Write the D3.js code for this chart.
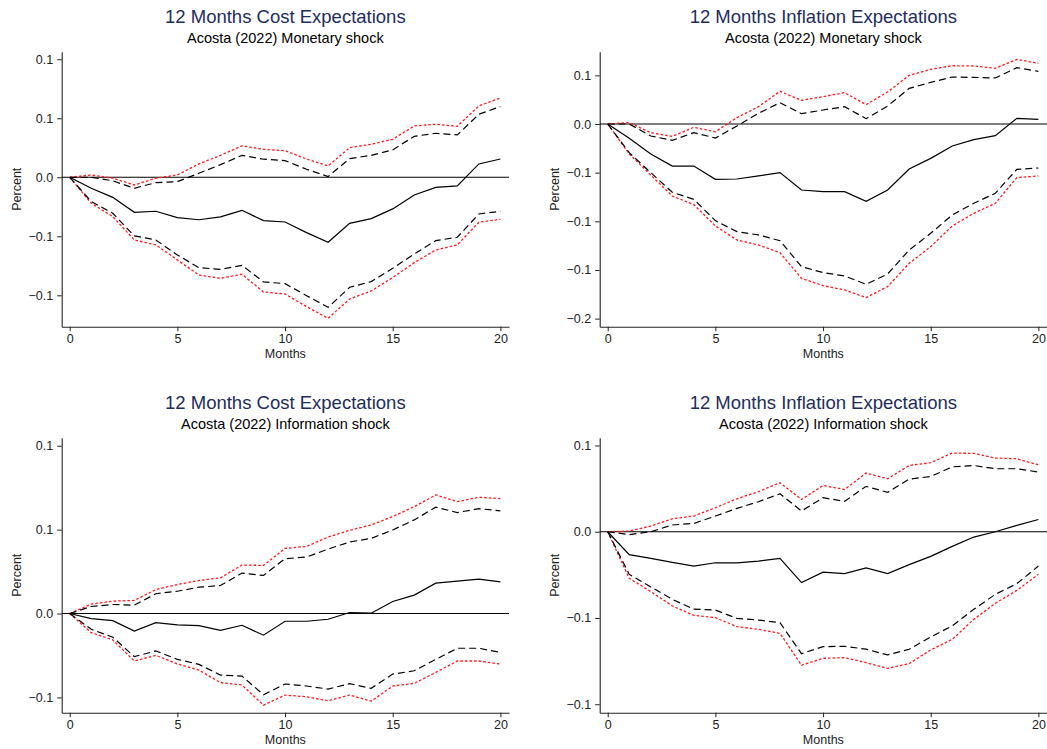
<!DOCTYPE html>
<html>
<head>
<meta charset="utf-8">
<script src="https://cdn.jsdelivr.net/npm/d3@7/dist/d3.min.js"></script>
<style>
  html, body { margin: 0; padding: 0; background: #fff; }
  svg { display: block; font-family: "Liberation Sans", Arial, Helvetica, sans-serif; }
</style>
</head>
<body>
<svg id="chart" width="1047" height="749"></svg>
<script>
// Horizon in months after the shock
const months = [0, 1, 2, 3, 4, 5, 6, 7, 8, 9, 10, 11, 12, 13, 14, 15, 16, 17, 18, 19, 20];
const xTickValues = [0, 5, 10, 15, 20];

// Panel titles
const titles = ["12 Months Cost Expectations", "12 Months Inflation Expectations",
                "12 Months Cost Expectations", "12 Months Inflation Expectations"];
const subtitles = ["Acosta (2022) Monetary shock", "Acosta (2022) Monetary shock",
                   "Acosta (2022) Information shock", "Acosta (2022) Information shock"];

// Cost expectations, monetary shock
const costMonIrf = [0, -0.0093, -0.017, -0.0297, -0.0288, -0.0342, -0.036, -0.0336, -0.028, -0.0367, -0.0379,
                    -0.0469, -0.0551, -0.039, -0.035, -0.0268, -0.015, -0.0085, -0.0073, 0.0113, 0.0155];
const costMonInnerHi = [0, 0, -0.003, -0.0093, -0.0045, -0.0037, 0.0034, 0.0107, 0.0186, 0.0153, 0.0141,
                        0.0068, 0.0006, 0.0158, 0.0186, 0.0232, 0.0347, 0.0373, 0.0359, 0.0534, 0.0599];
const costMonInnerLo = [0, -0.0206, -0.0305, -0.0497, -0.0531, -0.0658, -0.0766, -0.078, -0.0746, -0.0887, -0.0901,
                        -0.1003, -0.1102, -0.0932, -0.0884, -0.0771, -0.065, -0.0537, -0.0508, -0.0311, -0.0288];
const costMonOuterHi = [0, 0.002, -0.0008, -0.0065, -0.0008, 0.002, 0.0113, 0.0186, 0.0266, 0.0237, 0.0226,
                        0.0155, 0.0096, 0.0251, 0.028, 0.0322, 0.0435, 0.0449, 0.0432, 0.0605, 0.0672];
const costMonOuterLo = [0, -0.022, -0.0333, -0.0531, -0.0573, -0.07, -0.0828, -0.0856, -0.0822, -0.0972, -0.0989,
                        -0.1096, -0.1195, -0.1031, -0.0963, -0.085, -0.0723, -0.0616, -0.0573, -0.0381, -0.0356];

// Inflation expectations, monetary shock
const inflMonIrf = [0, -0.0147, -0.0308, -0.0432, -0.0432, -0.0568, -0.0565, -0.0534, -0.05, -0.0678, -0.0695,
                    -0.0695, -0.0795, -0.0678, -0.0462, -0.0353, -0.0226, -0.0161, -0.012, 0.0058, 0.0048];
const inflMonInnerHi = [0, 0, -0.0123, -0.0168, -0.0089, -0.0144, -0.0021, 0.011, 0.0219, 0.0106, 0.0144,
                        0.0178, 0.0055, 0.0185, 0.0366, 0.0428, 0.0483, 0.0479, 0.0473, 0.0579, 0.0541];
const inflMonInnerLo = [0, -0.0295, -0.05, -0.0702, -0.0774, -0.0993, -0.1106, -0.114, -0.1199, -0.1466, -0.1527,
                        -0.1562, -0.1647, -0.1541, -0.1295, -0.1123, -0.0935, -0.0815, -0.0712, -0.0466, -0.0452];
const inflMonOuterHi = [0, 0.0014, -0.0089, -0.0127, -0.0034, -0.0079, 0.0065, 0.0178, 0.0336, 0.0243, 0.0281,
                        0.0322, 0.0199, 0.0329, 0.05, 0.0562, 0.0599, 0.0596, 0.0572, 0.0664, 0.0623];
const inflMonOuterLo = [0, -0.0308, -0.0524, -0.074, -0.0829, -0.1048, -0.1192, -0.1243, -0.1322, -0.1586, -0.1661,
                        -0.1705, -0.1784, -0.1671, -0.1432, -0.126, -0.1048, -0.0918, -0.0815, -0.0551, -0.0534];

// Cost expectations, information shock
const costInfIrf = [0, -0.003, -0.0042, -0.0104, -0.0054, -0.0068, -0.0072, -0.01, -0.007, -0.0129, -0.0046,
                    -0.0046, -0.0034, 0.0006, 0.0002, 0.0072, 0.011, 0.0181, 0.0193, 0.0205, 0.0189];
const costInfInnerHi = [0, 0.0042, 0.0054, 0.005, 0.0118, 0.0133, 0.0157, 0.0167, 0.0241, 0.0227, 0.0327,
                        0.0337, 0.0384, 0.0426, 0.0448, 0.0498, 0.0558, 0.0634, 0.0602, 0.0625, 0.0612];
const costInfInnerLo = [0, -0.0094, -0.0141, -0.0257, -0.0223, -0.0273, -0.0303, -0.0367, -0.0373, -0.0484, -0.042,
                        -0.0432, -0.045, -0.0418, -0.0446, -0.0361, -0.0341, -0.0273, -0.0207, -0.0207, -0.0231];
const costInfOuterHi = [0, 0.0056, 0.0074, 0.0078, 0.0143, 0.0173, 0.0197, 0.0213, 0.0289, 0.0287, 0.0388,
                        0.04, 0.0456, 0.0496, 0.0528, 0.0578, 0.0637, 0.0707, 0.0667, 0.0693, 0.0685];
const costInfOuterLo = [0, -0.0114, -0.0157, -0.0283, -0.0249, -0.0301, -0.0337, -0.0412, -0.0426, -0.0546, -0.0486,
                        -0.0496, -0.052, -0.0486, -0.0522, -0.0432, -0.0416, -0.0351, -0.0283, -0.0283, -0.0301];

// Inflation expectations, information shock
const inflInfIrf = [0, -0.0133, -0.0154, -0.0178, -0.0199, -0.018, -0.018, -0.017, -0.0154, -0.0295, -0.0234,
                    -0.0243, -0.021, -0.0243, -0.0191, -0.0143, -0.0085, -0.0031, 0, 0.0037, 0.0071];
const inflInfInnerHi = [0, -0.0017, 0, 0.0039, 0.0048, 0.0091, 0.0135, 0.0174, 0.022, 0.012, 0.0197,
                        0.0176, 0.0263, 0.0228, 0.0305, 0.032, 0.0376, 0.0384, 0.0365, 0.0365, 0.0346];
const inflInfInnerLo = [0, -0.0247, -0.032, -0.0392, -0.0449, -0.0454, -0.0502, -0.0512, -0.0527, -0.0707, -0.0666,
                        -0.0664, -0.0681, -0.0714, -0.0681, -0.061, -0.0546, -0.045, -0.0363, -0.0301, -0.0199];
const inflInfOuterHi = [0, 0.0004, 0.0033, 0.0075, 0.0091, 0.0139, 0.0191, 0.0232, 0.0284, 0.0187, 0.0268,
                        0.0245, 0.034, 0.0307, 0.0384, 0.04, 0.0456, 0.0454, 0.0427, 0.0423, 0.0388];
const inflInfOuterLo = [0, -0.027, -0.0347, -0.043, -0.0485, -0.0498, -0.055, -0.0566, -0.0589, -0.0774, -0.0734,
                        -0.073, -0.0759, -0.0792, -0.0764, -0.0685, -0.0624, -0.0508, -0.0415, -0.034, -0.0247];

// Y-axis ticks and their printed labels (one decimal place)
const yTicks1 = [0.1, 0.05, 0, -0.05, -0.1];
const yLabels1 = ["0.1", "0.1", "0.0", "\u22120.1", "\u22120.1"];
const yTicks2 = [0.05, 0, -0.05, -0.1, -0.15, -0.2];
const yLabels2 = ["0.1", "0.0", "\u22120.1", "\u22120.1", "\u22120.1", "\u22120.2"];
const yTicks3 = [0.1, 0.05, 0, -0.05];
const yLabels3 = ["0.1", "0.1", "0.0", "\u22120.1"];
const yTicks4 = [0.05, 0, -0.05, -0.1];
const yLabels4 = ["0.1", "0.0", "\u22120.1", "\u22120.1"];

const panels = [
  { ox: 0,   oy: 0,   yDom: [-0.1266, 0.1064], ticks: yTicks1, labels: yLabels1,
    irf: costMonIrf, innerHi: costMonInnerHi, innerLo: costMonInnerLo, outerHi: costMonOuterHi, outerLo: costMonOuterLo },
  { ox: 538, oy: 0,   yDom: [-0.2083, 0.0743], ticks: yTicks2, labels: yLabels2,
    irf: inflMonIrf, innerHi: inflMonInnerHi, innerLo: inflMonInnerLo, outerHi: inflMonOuterHi, outerLo: inflMonOuterLo },
  { ox: 0,   oy: 386, yDom: [-0.0591, 0.1048], ticks: yTicks3, labels: yLabels3,
    irf: costInfIrf, innerHi: costInfInnerHi, innerLo: costInfInnerLo, outerHi: costInfOuterHi, outerLo: costInfOuterLo },
  { ox: 538, oy: 386, yDom: [-0.1049, 0.0545], ticks: yTicks4, labels: yLabels4,
    irf: inflInfIrf, innerHi: inflInfInnerHi, innerLo: inflInfInnerLo, outerHi: inflInfOuterHi, outerLo: inflInfOuterLo }
];

// Plot-region geometry shared by every panel (panel-local pixels)
const plotLeft = 61.7, plotRight = 509, plotTop = 51.7, plotBottom = 326.7;
const xDom = [-0.372, 20.4];

const svg = d3.select("#chart");
svg.append("rect").attr("width", 1047).attr("height", 749).attr("fill", "#fff");

panels.forEach((p, i) => {
  const g = svg.append("g").attr("transform", `translate(${p.ox},${p.oy})`);

  const x = d3.scaleLinear().domain(xDom).range([plotLeft, plotRight]);
  const y = d3.scaleLinear().domain(p.yDom).range([plotBottom, plotTop]);

  // Titles
  const cx = (plotLeft + plotRight) / 2;
  g.append("text").attr("x", cx).attr("y", 22.5).attr("text-anchor", "middle")
    .attr("font-size", 18.5).attr("fill", "#1e2d5c").text(titles[i]);
  g.append("text").attr("x", cx).attr("y", 42.5).attr("text-anchor", "middle")
    .attr("font-size", 14.5).attr("fill", "#000").text(subtitles[i]);

  // Y axis
  const yAxis = d3.axisLeft(y).tickValues(p.ticks)
    .tickFormat((d, k) => p.labels[k]).tickSizeInner(4.5).tickSizeOuter(0).tickPadding(4);
  const ya = g.append("g").attr("transform", `translate(${plotLeft},0)`).call(yAxis);

  // X axis
  const xAxis = d3.axisBottom(x).tickValues(xTickValues).tickFormat(d3.format("d"))
    .tickSizeInner(4.5).tickSizeOuter(0).tickPadding(3);
  const xa = g.append("g").attr("transform", `translate(0,${plotBottom})`).call(xAxis);

  [ya, xa].forEach(a => {
    a.select(".domain").attr("stroke", "#222").attr("stroke-width", 1.1);
    a.selectAll(".tick line").attr("stroke", "#222").attr("stroke-width", 1);
    a.selectAll(".tick text").attr("font-size", 12.5).attr("fill", "#222")
      .attr("font-family", "\"Liberation Sans\", Arial, sans-serif");
  });

  // Axis titles
  g.append("text").attr("x", cx).attr("y", 357.5).attr("text-anchor", "middle")
    .attr("font-size", 12.5).attr("fill", "#222").text("Months");
  g.append("text")
    .attr("transform", `translate(20.5,${(plotTop + plotBottom) / 2}) rotate(-90)`)
    .attr("text-anchor", "middle").attr("font-size", 12.5).attr("fill", "#222").text("Percent");

  // Zero reference line
  g.append("line").attr("x1", plotLeft).attr("x2", plotRight)
    .attr("y1", y(0)).attr("y2", y(0)).attr("stroke", "#000").attr("stroke-width", 1.1);

  const line = d3.line().x((d, k) => x(months[k])).y(d => y(d));

  // Outer band (red dotted)
  [p.outerHi, p.outerLo].forEach(s => {
    g.append("path").datum(s).attr("d", line).attr("fill", "none")
      .attr("stroke", "#ff1a1a").attr("stroke-width", 1.3).attr("stroke-dasharray", "2.6,2");
  });
  // Inner band (black dashed)
  [p.innerHi, p.innerLo].forEach(s => {
    g.append("path").datum(s).attr("d", line).attr("fill", "none")
      .attr("stroke", "#000").attr("stroke-width", 1.2).attr("stroke-dasharray", "7,4");
  });
  // Point estimate (solid)
  g.append("path").datum(p.irf).attr("d", line).attr("fill", "none")
    .attr("stroke", "#000").attr("stroke-width", 1.2);
});
</script>
</body>
</html>
